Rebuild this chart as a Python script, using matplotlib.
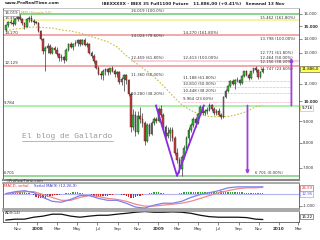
import numpy as np
import pandas as pd
import matplotlib
matplotlib.use("Agg")
import matplotlib.pyplot as plt
import matplotlib.dates as mdates
import matplotlib.transforms as mtrans
from matplotlib.lines import Line2D
from matplotlib.ticker import NullLocator

# ---------------------------------------------------------------
# weekly candles IBEX 35 future (Friday of each week)
# ---------------------------------------------------------------
first_week = "2007-09-28"

opens = [14650, 15050, 15350, 15250, 15150, 15600, 15750, 15600, 15250, 14950,
         15550, 15700, 15400, 15300, 15250, 14600, 14000, 13100, 13300, 13500,
         13000, 13300, 13200, 12900, 12600, 12700, 12500, 13200, 13600, 13400,
         13650, 13700, 13900, 13600, 13950, 13550, 13650, 13000, 12800, 12400,
         12000, 11600, 11500, 11800, 11900, 11700, 11950, 11800, 11600, 11700,
         11100, 11300, 11500, 11200, 10400, 8700, 9300, 8500, 9250, 9100,
         8900, 8100, 8800, 8400, 8900, 9100, 9000, 9600, 9300, 8700,
         8300, 8450, 8600, 8200, 7600, 7300, 6950, 7400, 7800, 8200,
         8600, 8800, 9100, 8900, 9350, 9700, 9400, 9500, 9550, 9800,
         9600, 9400, 9500, 9300, 9200, 10250, 10600, 10850, 11150, 11000,
         11200, 11250, 11050, 11450, 11750, 11550, 11350, 11750, 11950, 11850,
         11400, 11700]
highs = [15100, 15450, 15550, 15500, 15650, 15900, 16019, 15700, 15350, 15650,
         15850, 15900, 15550, 15450, 15300, 14700, 14100, 13500, 13700, 13600,
         13400, 13500, 13400, 13000, 12900, 12800, 13300, 13700, 13800, 13700,
         13900, 14000, 14000, 14000, 14100, 13800, 13700, 13100, 12900, 12500,
         12100, 11800, 11900, 12000, 12000, 12000, 12100, 11900, 11800, 11750,
         11400, 11600, 11600, 11300, 10500, 9600, 9500, 9500, 9700, 9400,
         9000, 8900, 8900, 9000, 9200, 9200, 9700, 9800, 9400, 8800,
         8700, 8700, 8700, 8300, 7800, 7400, 7500, 7900, 8300, 8700,
         8900, 9200, 9200, 9400, 9800, 9750, 9600, 9700, 9900, 9850,
         9700, 9600, 9650, 9400, 10300, 10700, 10900, 11200, 11300, 11300,
         11400, 11300, 11500, 11800, 11850, 11650, 11800, 12000, 12100, 11900,
         11800, 11950]
lows = [14600, 14950, 15150, 15000, 15100, 15450, 15500, 15050, 14750, 14900,
        15350, 15300, 15100, 15150, 14500, 13900, 12900, 11800, 13000, 12900,
        12900, 13000, 12800, 12400, 12400, 12300, 12450, 13100, 13300, 13200,
        13500, 13500, 13500, 13550, 13500, 13400, 12900, 12600, 12300, 11900,
        11500, 11300, 11200, 11500, 11500, 11600, 11700, 11400, 11400, 11000,
        10900, 10600, 11000, 10300, 8500, 8600, 8300, 8400, 8900, 8700,
        7900, 8050, 8300, 8350, 8800, 8900, 8950, 9200, 8500, 8200,
        8200, 8100, 8100, 7500, 7200, 6800, 6701, 7350, 7700, 7900,
        8500, 8700, 8700, 8850, 9300, 9300, 9300, 9350, 9500, 9500,
        9300, 9300, 9250, 9100, 9150, 10200, 10500, 10800, 10900, 10700,
        11100, 10900, 11000, 11400, 11450, 11200, 11300, 11650, 11700, 11300,
        11350, 11650]
closes = [15050, 15350, 15250, 15150, 15600, 15750, 15600, 15250, 14950, 15550,
          15700, 15400, 15300, 15250, 14600, 14000, 13100, 13300, 13500, 13000,
          13300, 13200, 12900, 12600, 12700, 12500, 13200, 13600, 13400, 13650,
          13700, 13900, 13600, 13950, 13550, 13650, 13000, 12800, 12400, 12000,
          11600, 11500, 11800, 11900, 11700, 11950, 11800, 11600, 11700, 11100,
          11300, 11500, 11200, 10400, 8700, 9300, 8500, 9250, 9100, 8900,
          8100, 8800, 8400, 8900, 9100, 9000, 9600, 9300, 8700, 8300,
          8450, 8600, 8200, 7600, 7300, 6950, 7400, 7800, 8200, 8600,
          8800, 9100, 8900, 9350, 9700, 9400, 9500, 9550, 9800, 9600,
          9400, 9500, 9300, 9200, 10250, 10600, 10850, 11150, 11000, 11200,
          11250, 11050, 11450, 11750, 11550, 11350, 11750, 11950, 11850, 11400,
          11700, 11886]

# indicators, read every 4th week (plus the last week)
sample_idx = list(range(0, 112, 4)) + [111]
ma50 = [14600, 14760, 14840, 14920, 14880, 14840, 14680, 14600, 14450, 14220,
        14000, 13780, 13410, 12790, 12320, 11870, 11430, 10890, 10320, 9830,
        9520, 9320, 9220, 9220, 9220, 9320, 9470, 9720, 9800]
macd_line = [0, 160, 240, 80, -320, -640, -720, -480, -160, -160,
             -400, -560, -560, -800, -1120, -1200, -960, -800, -800, -640,
             -320, -80, 80, 240, 480, 560, 560, 560, 560]
macd_signal = [0, 80, 160, 160, -80, -320, -560, -560, -320, -160,
               -240, -400, -480, -640, -880, -1040, -1040, -960, -880, -800,
               -640, -400, -160, 80, 240, 400, 480, 480, 520]
adx14 = [11, 16, 16, 27, 33, 44, 44, 33, 27, 33, 38, 38, 44, 49, 55, 59, 55, 55,
         57, 55, 49, 38, 30, 27, 27, 27, 25, 16, 14]

# weekly MACD histogram
macd_hist = ([30, 60, 90]
             + [130, 160, 180, 170, 150, 120, 90, 50]
             + [-60, -150, -250, -350, -400, -380, -330, -280, -230, -180, -150, -120, -80, -40]
             + [0, 40, 60, 80]
             + [100, 120, 110, 80, 40]
             + [0, -30, -60]
             + [-120, -200, -260, -300, -280, -240, -200, -160, -120, -90]
             + [-60, -40, -30]
             + [-80, -150, -220, -300, -350, -330, -280, -220, -160, -100]
             + [-50, 0, 40]
             + [80, 110, 120, 100]
             + [60, 20, -20, -50, -60, -40, -20, 0]
             + [40, 80, 110, 140, 160, 170, 170, 160, 150, 140, 130, 120, 110, 100, 110,
                130, 150, 170, 180, 180, 170, 160, 150, 140, 130, 120, 110, 100, 90, 80, 70]
             + [60, 50, 40, 40, 30, 20])

# fibonacci sets (value, text)
fib_a_values = [16019, 14024, 12459, 11360, 10280]
fib_a_labels = ["16.019 (100.0%)", "14.024 (78.60%)", "12.459 (61.80%)",
                "11.360 (50.00%)", "10.280 (38.20%)"]
fib_b_values = [14270, 12413, 11188, 10810, 10448, 9964]
fib_b_labels = ["14.270 (161.80%)", "12.413 (100.00%)", "11.188 (61.80%)",
                "10.810 (50.00%)", "10.448 (38.20%)", "9.964 (23.60%)"]
fib_c_values = [15462, 13798, 12771, 12464, 12156, 11747]
fib_c_labels = ["15.462 (161.80%)", "13.798 (100.00%)", "12.771 (61.80%)",
                "12.464 (50.00%)", "12.156 (38.20%)", "11.747 (23.60%)"]

# full width support / resistance lines
line_values = [16019, 15462, 14270, 12129, 9784, 6701]
line_colors = ["#86cf86", "#f6f39a", "#f0a3a3", "#f0a3a3", "#a6f0a6", "#8fd48f"]
line_labels = ["16.019", "15.462", "14.270", "12.129", "9.784", "6.701"]

price_ticks = [7000, 8000, 9000, 10000, 11000, 13000, 14000, 15000, 16000]
price_tick_labels = ["7.000", "8.000", "9.000", "10.000", "11.000", "13.000",
                     "14.000", "15.000", "16.000"]

month_ticks = pd.date_range("2007-11-01", "2010-03-01", freq="2MS")
month_labels = ["Nov", "2008", "Mar", "May", "Jul", "Sep", "Nov", "2009",
                "Mar", "May", "Jul", "Sep", "Nov", "2010", "Mar"]

# ---------------------------------------------------------------
W, H = 320, 240
fig = plt.figure(figsize=(3.2, 2.4), dpi=100)


def box(x0, y0, x1, y1):
    return [x0 / W, 1 - y1 / H, (x1 - x0) / W, (y1 - y0) / H]


ax = fig.add_axes(box(3, 8, 299, 180))
ax_m = fig.add_axes(box(3, 183, 299, 209), sharex=ax)
ax_a = fig.add_axes(box(3, 211, 299, 222), sharex=ax)

dates = pd.date_range(first_week, periods=len(closes), freq="7D")
xd = mdates.date2num(dates)
xs = xd[sample_idx]

o = np.array(opens)
c = np.array(closes)
up = c >= o

# candles
ax.vlines(xd, lows, highs, color="#222222", lw=0.45, zorder=3)
lo = np.minimum(o, c)
hi = np.maximum(o, c)
ax.bar(xd, hi - lo, bottom=lo, width=4.8,
       color=np.where(up, "#2fbf2f", "#d23c3c"),
       edgecolor="#222222", linewidth=0.3, zorder=4)

# moving average
ax.plot(xs, ma50, color="#c8c040", lw=0.8, ls=(0, (1.5, 1.5)), zorder=2)

# horizontal levels
for v, col in zip(line_values, line_colors):
    ax.axhline(v, color=col, lw=1.3, zorder=1)
ax.hlines(12413, mdates.date2num(pd.Timestamp("2008-10-10")),
          mdates.date2num(pd.Timestamp("2010-03-03")), color="#f8c8d6", lw=1.2, zorder=1)
ax.hlines(fib_b_values[2:], mdates.date2num(pd.Timestamp("2009-03-15")),
          mdates.date2num(pd.Timestamp("2010-02-10")), color="#f090b8", lw=0.5,
          linestyles=(0, (1, 1)), zorder=1)

ylab = mtrans.blended_transform_factory(ax.transAxes, ax.transData)
fs = 2.8
for v, t in zip(fib_a_values, fib_a_labels):
    ax.text(mdates.date2num(pd.Timestamp("2008-10-11")), v * 1.004, t, fontsize=fs,
            va="bottom", ha="left", color="#333333")
for v, t in zip(fib_b_values, fib_b_labels):
    ax.text(mdates.date2num(pd.Timestamp("2009-03-18")), v * 1.004, t, fontsize=fs,
            va="bottom", ha="left", color="#333333")
for v, t in zip(fib_c_values, fib_c_labels):
    ax.text(mdates.date2num(pd.Timestamp("2009-11-04")), v * 1.004, t, fontsize=fs,
            va="bottom", ha="left", color="#333333")
ax.text(mdates.date2num(pd.Timestamp("2009-10-22")), 6701 * 1.004, "6.701 (0.00%)",
        fontsize=fs, va="bottom", ha="left", color="#333333")

for v, t in zip(line_values[1:], line_labels[1:]):
    ax.text(0.004, v * 1.004, t, transform=ylab, fontsize=fs, va="bottom",
            ha="left", color="#333333")
ax.text(0.004, 0.985, line_labels[0], transform=ax.transAxes, fontsize=fs, va="top",
        ha="left", color="#333333",
        bbox=dict(boxstyle="square,pad=0.25", fc="white", ec="#888888", lw=0.4))
ax.text(0.06, 0.985, "MM (Simple 50)", transform=ax.transAxes, fontsize=fs,
        va="top", ha="left", color="#b8b030")

# purple projections
pc = "#a040d8"
ax.plot(mdates.date2num(pd.to_datetime(["2008-12-25", "2009-02-27", "2009-05-19"])),
        [9784, 6701, 9784], color="#8a2be2", lw=1.3, zorder=5)
ax.annotate("", xy=(mdates.date2num(pd.Timestamp("2010-02-08")), 12650),
            xytext=(mdates.date2num(pd.Timestamp("2010-02-08")), 9784),
            arrowprops=dict(arrowstyle="-|>", color=pc, lw=1.3,
                            mutation_scale=4, shrinkA=0, shrinkB=0))
ax.annotate("", xy=(mdates.date2num(pd.Timestamp("2009-09-28")), 6760),
            xytext=(mdates.date2num(pd.Timestamp("2009-09-28")), 9784),
            arrowprops=dict(arrowstyle="-|>", color=pc, lw=1.3,
                            mutation_scale=4, shrinkA=0, shrinkB=0))

# axes styling
ax.set_yscale("log")
ax.set_ylim(6557, 16524)
ax.set_xlim(mdates.date2num(pd.Timestamp("2007-09-19")),
            mdates.date2num(pd.Timestamp("2010-03-03")))
ax.yaxis.tick_right()
ax.set_yticks(price_ticks, labels=price_tick_labels)
ax.yaxis.set_minor_locator(NullLocator())
for t in ax.get_yticklabels():
    if t.get_text() in ("15.000", "10.000"):
        t.set_fontweight("bold")
ax.tick_params(axis="y", length=2, width=0.4, pad=1, labelsize=fs, colors="#333333")
ax.tick_params(axis="x", bottom=False, labelbottom=False)

ax.text(1.008, 11886, "11.886,0", transform=ylab, fontsize=fs, va="center",
        ha="left", clip_on=False,
        bbox=dict(boxstyle="square,pad=0.25", fc="#ffff55", ec="#444444", lw=0.4))
ax.text(1.008, 9650, "9.716", transform=ylab, fontsize=fs, va="center",
        ha="left", clip_on=False,
        bbox=dict(boxstyle="square,pad=0.25", fc="white", ec="#c8c040", lw=0.4))

# MACD panel
hist_col = np.where(np.array(macd_hist) >= 0, "#2fa82f", "#cc2a2a")
ax_m.bar(xd, macd_hist, width=4, color=hist_col, zorder=2)
ax_m.axhline(0, color="#b4b4f0", lw=0.8, zorder=1)
ax_m.plot(xs, macd_signal, color="#f08a8a", lw=0.9, zorder=3)
ax_m.plot(xs, macd_line, color="#8080f0", lw=0.9, zorder=3)
ax_m.set_ylim(-1280, 880)
ax_m.yaxis.tick_right()
ax_m.set_yticks([-1000], labels=["-1.000"])
ax_m.yaxis.set_minor_locator(NullLocator())
ax_m.tick_params(axis="y", length=2, width=0.4, pad=1, labelsize=fs, colors="#333333")
ax_m.tick_params(axis="x", bottom=False, labelbottom=False)
ylm = mtrans.blended_transform_factory(ax_m.transAxes, ax_m.transData)
ax_m.text(1.008, 480, "26.59", transform=ylm, fontsize=fs, va="center", ha="left",
          clip_on=False, color="#cc3333",
          bbox=dict(boxstyle="square,pad=0.25", fc="white", ec="#cc3333", lw=0.4))
ax_m.text(1.008, 0, "12.95", transform=ylm, fontsize=fs, va="center", ha="left",
          clip_on=False, color="#5555cc",
          bbox=dict(boxstyle="square,pad=0.25", fc="white", ec="#8c8cf0", lw=0.4))
ax_m.text(0.005, 0.97, "MACD, señal", transform=ax_m.transAxes, fontsize=fs,
          va="top", ha="left", color="#dd3333")
ax_m.text(0.105, 0.97, "Señal MA(9) (12,26,9)", transform=ax_m.transAxes,
          fontsize=fs, va="top", ha="left", color="#3333cc")

# ADX panel
ax_a.plot(xs, adx14, color="#111111", lw=0.9)
ax_a.set_ylim(0, 62)
ax_a.set_yticks([])
ax_a.text(0.005, 0.97, "ADX(14)", transform=ax_a.transAxes, fontsize=fs,
          va="top", ha="left", color="#333333")
ax_a.text(1.008, 0.5, "15.22", transform=ax_a.transAxes, fontsize=fs, va="center",
          ha="left", clip_on=False,
          bbox=dict(boxstyle="square,pad=0.25", fc="white", ec="#444444", lw=0.4))
ax_a.set_xticks(mdates.date2num(month_ticks), labels=month_labels)
for t in ax_a.get_xticklabels():
    if t.get_text().startswith("20"):
        t.set_fontweight("bold")
ax_a.tick_params(axis="x", length=2, width=0.4, pad=1.5, labelsize=3, colors="#333333")

for a in (ax, ax_m, ax_a):
    for s in a.spines.values():
        s.set_linewidth(0.6)
        s.set_color("#555555")
ax.spines["top"].set_color("#bbbbbb")
ax.spines["bottom"].set_color("#888888")
ax.spines["bottom"].set_linewidth(1.5)
ax_m.spines["top"].set_color("#999999")
ax_m.spines["top"].set_linewidth(1.2)
ax_m.spines["bottom"].set_color("#999999")
ax_m.spines["bottom"].set_linewidth(1.2)
ax_a.spines["top"].set_color("#999999")
ax_a.spines["top"].set_linewidth(1.2)

# header and watermark
fig.text(5 / W, 1 - 3.5 / H, "www.ProRealTime.com", fontsize=3.1, weight="bold",
         va="center", ha="left", color="#222222")
fig.text(102 / W, 1 - 3.5 / H,
         "IBEXXXXX - IBEX 35 Full1100 Future   11.886,00 (+0.41%)   Semanal 13 Nov",
         fontsize=3.1, weight="bold", va="center", ha="left", color="#222222")
fig.text(5 / W, 1 - 181.5 / H, "©ProRealTime.com", fontsize=fs, va="center",
         ha="left", color="#333333")
fig.text(22 / W, 1 - 136.5 / H, "El blog de Gallardo", fontsize=5.7,
         family="Liberation Mono", va="center", ha="left", color="#9a9a9a")
fig.add_artist(Line2D([22 / W, 113 / W], [1 - 140.5 / H] * 2, color="#9a9a9a", lw=0.5))

fig.savefig("out.png", dpi=100)
